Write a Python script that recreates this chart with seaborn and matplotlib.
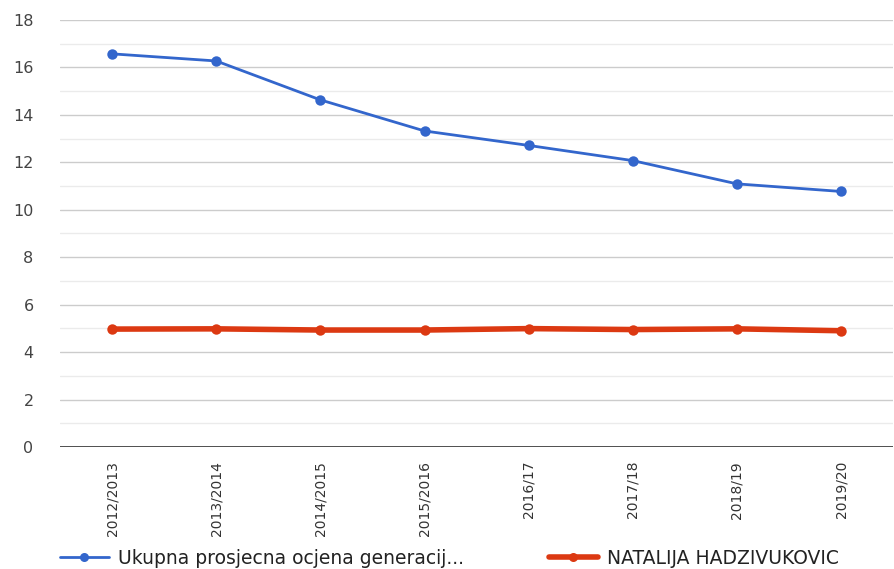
import pandas as pd
import matplotlib.pyplot as plt
import seaborn as sns
from matplotlib.ticker import MultipleLocator
from matplotlib.lines import Line2D

# values
years = ['2012/2013', '2013/2014', '2014/2015', '2015/2016',
         '2016/17', '2017/18', '2018/19', '2019/20']
generation_avg = [16.57, 16.27, 14.63, 13.32, 12.71, 12.07, 11.09, 10.77]
student_avg = [4.97, 4.98, 4.93, 4.93, 4.99, 4.95, 4.98, 4.90]

name_gen = 'Ukupna prosjecna ocjena generacij...'
name_student = 'NATALIJA HADZIVUKOVIC'

df = pd.DataFrame({'Godina': years, name_gen: generation_avg, name_student: student_avg})
df_long = df.melt(id_vars='Godina', var_name='Serija', value_name='Ocjena')

sns.set_style('white')
plt.rcParams['font.family'] = ['DejaVu Sans']

fig = plt.figure(figsize=(8.95, 5.69), dpi=100)
ax = fig.add_axes([0.067, 0.2144, 0.931, 0.7506])

palette = {name_gen: '#3366cc', name_student: '#dc3912'}
sns.lineplot(data=df_long, x='Godina', y='Ocjena', hue='Serija', palette=palette,
             marker='o', markersize=7.5, markeredgewidth=0, sort=False, ax=ax,
             legend=False)
ax.lines[0].set_linewidth(2)
ax.lines[1].set_linewidth(4)

ax.set_ylim(0, 18)
ax.set_xlim(-0.5, len(years) - 0.5)
ax.yaxis.set_major_locator(MultipleLocator(2))
ax.yaxis.set_minor_locator(MultipleLocator(1))
ax.grid(which='major', axis='y', color='#cccccc', linewidth=1)
ax.grid(which='minor', axis='y', color='#ebebeb', linewidth=1)
ax.set_axisbelow(True)
ax.axhline(0, color='#333333', linewidth=1.2)

for s in ax.spines.values():
    s.set_visible(False)

ax.set_xlabel('')
ax.set_ylabel('')
ax.tick_params(axis='both', which='both', length=0, colors='#444444')
ax.tick_params(axis='y', labelsize=11.5, pad=19)
ax.tick_params(axis='x', labelsize=10, pad=10, labelcolor='#333333')
plt.setp(ax.get_xticklabels(), rotation=90, va='top', ha='center')

# legend below the plot, one entry at a time so each sits where the reference has it
h_gen = Line2D([], [], color='#3366cc', lw=2, marker='o', markersize=6.5, markeredgewidth=0)
h_stu = Line2D([], [], color='#dc3912', lw=4, marker='o', markersize=6.5, markeredgewidth=0)
kw = dict(loc='center left', frameon=False, fontsize=13.5, handlelength=2.6,
          handletextpad=0.5, labelcolor='#222222', borderpad=0, borderaxespad=0)
fig.legend([h_gen], [name_gen], bbox_to_anchor=(60 / 895, 11 / 569), **kw)
fig.legend([h_stu], [name_student], bbox_to_anchor=(549 / 895, 11 / 569), **kw)

fig.savefig('out.png', dpi=100)
